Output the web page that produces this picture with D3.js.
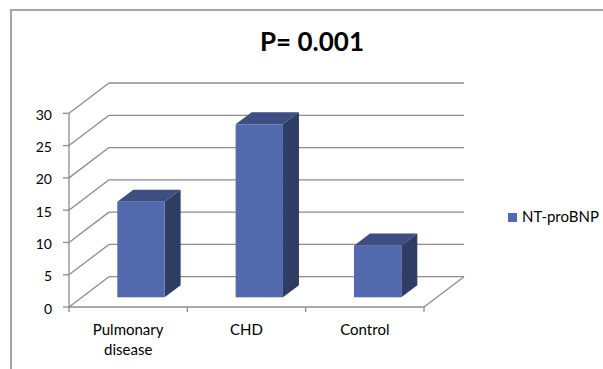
<!DOCTYPE html>
<html>
<head>
<meta charset="utf-8">
<script src="https://cdn.jsdelivr.net/npm/d3@7"></script>
<style>
  html, body { margin: 0; padding: 0; background: #fff; }
  svg { display: block; }
  text { font-family: Lato, "Open Sans", sans-serif; fill: #000; }
</style>
</head>
<body>
<svg id="chart" width="603" height="369"></svg>
<script>
// Chart data
const title = "P= 0.001";
const seriesName = "NT-proBNP";
const categories = [["Pulmonary", "disease"], ["CHD"], ["Control"]];
const values = [14.8, 26.8, 8.0];
const yTicks = [0, 5, 10, 15, 20, 25, 30];

const svg = d3.select("#chart");

// Outer chart frame
svg.append("rect")
  .attr("x", 11).attr("y", 10)
  .attr("width", 640).attr("height", 400)
  .attr("fill", "none").attr("stroke", "#a5a5a5").attr("stroke-width", 2);

// 3D plot geometry: front plane plus a depth vector toward the back wall
const front = { left: 69, right: 424, bottom: 307, top: 113.3 };
const depth = { dx: 40, dy: -30.3 };

const catKeys = categories.map(c => c.join(" "));
const x = d3.scaleBand().domain(catKeys).range([front.left, front.right]);
const y = d3.scaleLinear().domain([0, 30]).range([front.bottom, front.top]);

const gridColor = "#8c8c8c";
const grid = svg.append("g").attr("fill", "none").attr("stroke", gridColor).attr("stroke-width", 1.3);

// Back wall gridlines and left wall diagonals
yTicks.forEach(t => {
  const yf = y(t);
  grid.append("line")
    .attr("x1", front.left + depth.dx).attr("x2", front.right + depth.dx)
    .attr("y1", yf + depth.dy).attr("y2", yf + depth.dy);
  grid.append("line")
    .attr("x1", front.left).attr("y1", yf)
    .attr("x2", front.left + depth.dx).attr("y2", yf + depth.dy);
});

// Floor right edge
grid.append("line")
  .attr("x1", front.right).attr("y1", y(0))
  .attr("x2", front.right + depth.dx).attr("y2", y(0) + depth.dy);

// Vertical value axis with outer ticks
const yAxis = svg.append("g").attr("stroke", gridColor).attr("stroke-width", 1.3);
yAxis.append("line")
  .attr("x1", front.left).attr("x2", front.left)
  .attr("y1", y(30)).attr("y2", y(0));
yAxis.selectAll("line.tick").data(yTicks).join("line").attr("class", "tick")
  .attr("x1", front.left - 6).attr("x2", front.left)
  .attr("y1", d => y(d)).attr("y2", d => y(d));

svg.append("g").selectAll("text").data(yTicks).join("text")
  .attr("x", 52).attr("y", d => y(d) + 3)
  .attr("text-anchor", "end").attr("dominant-baseline", "middle")
  .attr("font-size", 14)
  .text(d => d);

// Category axis along the front floor edge
const xAxis = svg.append("g").attr("stroke", gridColor).attr("stroke-width", 1.3);
xAxis.append("line")
  .attr("x1", front.left).attr("x2", front.right)
  .attr("y1", y(0)).attr("y2", y(0));
const tickXs = catKeys.map(k => x(k)).concat([front.right]);
xAxis.selectAll("line.tick").data(tickXs).join("line").attr("class", "tick")
  .attr("x1", d => d).attr("x2", d => d)
  .attr("y1", y(0)).attr("y2", y(0) + 5);

const catLabels = svg.append("g");
categories.forEach((lines, i) => {
  const cx = x(catKeys[i]) + x.bandwidth() / 2;
  const t = catLabels.append("text")
    .attr("text-anchor", "middle").attr("font-size", 15)
    .attr("x", cx).attr("y", 335);
  lines.forEach((ln, j) => {
    t.append("tspan").attr("x", cx).attr("dy", j === 0 ? 0 : 20).text(ln);
  });
});

// 3D bars: front face sits partway into the depth, box extends toward the back
const barFront = 0.32, barBack = 0.72;
const barWidthFrac = 0.40;
const colFront = "#5269ad", colTop = "#3c4e82", colSide = "#2f3c64";

const bars = svg.append("g");
categories.forEach((c, i) => {
  const v = values[i];
  const ox = depth.dx * barFront, oy = depth.dy * barFront;
  const bx = depth.dx * (barBack - barFront), by = depth.dy * (barBack - barFront);
  const cx = x(catKeys[i]) + x.bandwidth() / 2 + ox;
  const w = x.bandwidth() * barWidthFrac;
  const x0 = cx - w / 2, x1 = cx + w / 2;
  const yb = y(0) + oy, yt = y(v) + oy;
  // top face
  bars.append("path")
    .attr("d", `M${x0},${yt}L${x0 + bx},${yt + by}L${x1 + bx},${yt + by}L${x1},${yt}Z`)
    .attr("fill", colTop);
  // side face
  bars.append("path")
    .attr("d", `M${x1},${yt}L${x1 + bx},${yt + by}L${x1 + bx},${yb + by}L${x1},${yb}Z`)
    .attr("fill", colSide);
  // front face
  bars.append("rect")
    .attr("x", x0).attr("y", yt).attr("width", w).attr("height", yb - yt)
    .attr("fill", colFront);
});

// Title
svg.append("text")
  .attr("x", 312).attr("y", 51)
  .attr("text-anchor", "middle")
  .attr("font-size", 26).attr("font-weight", "bold")
  .text(title);

// Legend
const legend = svg.append("g");
legend.append("rect")
  .attr("x", 508).attr("y", 213).attr("width", 9).attr("height", 9)
  .attr("fill", colFront);
legend.append("text")
  .attr("x", 522).attr("y", 222)
  .attr("font-size", 15)
  .text(seriesName);
</script>
</body>
</html>
